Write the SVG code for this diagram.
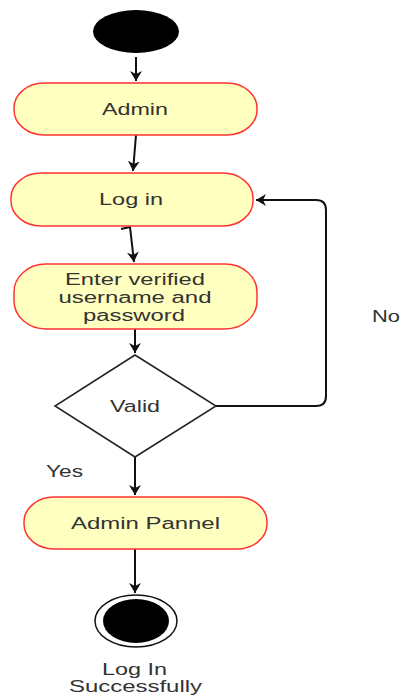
<svg xmlns="http://www.w3.org/2000/svg" width="403" height="698" viewBox="0 0 403 698">
<defs>
<style>
.act{fill:#ffffc0;stroke:#ff3333;stroke-width:1.5}
.t{font-family:"Liberation Sans",Arial,sans-serif;font-size:16px;fill:#333;text-anchor:middle}
.e{fill:none;stroke:#111;stroke-width:2}
</style>
<marker id="ah" markerWidth="14" markerHeight="12" refX="10" refY="6" orient="auto" markerUnits="userSpaceOnUse">
<path d="M0,0 L10,6 L0,12 L3,6 Z" fill="#111"/>
</marker>
</defs>
<rect width="403" height="698" fill="#fff"/>
<g id="connectors">
<path class="e" d="M136,57 L136,81" marker-end="url(#ah)"/>
<path class="e" d="M136,135 L133,171" marker-end="url(#ah)"/>
<path class="e" d="M121,229 L130,227 L134,262" marker-end="url(#ah)"/>
<path class="e" d="M135,329 L135,353" marker-end="url(#ah)"/>
<path class="e" d="M216,406 L316,406 Q326,406 326,396 L326,210 Q326,200 316,200 L256,200" marker-end="url(#ah)"/>
<path class="e" d="M135,457 L135,495" marker-end="url(#ah)"/>
<path class="e" d="M135,549 L135,593" marker-end="url(#ah)"/>
</g>
<g id="start"><ellipse cx="136" cy="31.5" rx="43" ry="21.5" fill="#000"/></g>
<g id="admin"><rect class="act" x="14" y="83" width="243" height="52" rx="30" ry="25"/><text class="t" x="135" y="115" textLength="66" lengthAdjust="spacingAndGlyphs">Admin</text></g>
<g id="login"><rect class="act" x="11" y="173" width="242" height="53" rx="30" ry="25"/><text class="t" x="131" y="205" textLength="64" lengthAdjust="spacingAndGlyphs">Log in</text></g>
<g id="enter"><rect class="act" x="14" y="264" width="243" height="65" rx="32" ry="28"/>
<text class="t" x="135" y="285" textLength="140" lengthAdjust="spacingAndGlyphs">Enter verified</text>
<text class="t" x="135" y="303" textLength="153" lengthAdjust="spacingAndGlyphs">username and</text>
<text class="t" x="134" y="321" textLength="102" lengthAdjust="spacingAndGlyphs">password</text></g>
<g id="valid"><polygon points="135,355 216,406 135,457 55,406" fill="#fff" stroke="#222" stroke-width="1.5"/><text class="t" x="135" y="412" textLength="50" lengthAdjust="spacingAndGlyphs">Valid</text></g>
<g id="labels">
<text class="t" x="386" y="322" textLength="28" lengthAdjust="spacingAndGlyphs">No</text>
<text class="t" x="64.5" y="477" textLength="37" lengthAdjust="spacingAndGlyphs">Yes</text>
</g>
<g id="panel"><rect class="act" x="24" y="497" width="243" height="52" rx="30" ry="25"/><text class="t" x="145.5" y="529" textLength="149" lengthAdjust="spacingAndGlyphs">Admin Pannel</text></g>
<g id="end"><ellipse cx="136" cy="621" rx="41" ry="26" fill="#fff" stroke="#111" stroke-width="1.5"/><ellipse cx="136" cy="621" rx="33" ry="22" fill="#000"/>
<text class="t" x="134.5" y="675" textLength="65" lengthAdjust="spacingAndGlyphs">Log In</text>
<text class="t" x="135.5" y="692" textLength="133" lengthAdjust="spacingAndGlyphs">Successfully</text></g>
</svg>
